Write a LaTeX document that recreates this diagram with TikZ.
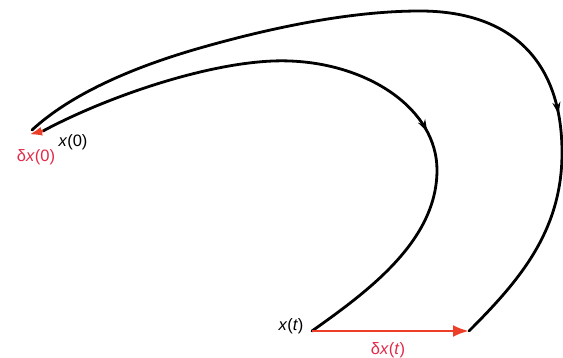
\documentclass[tikz,border=0pt]{standalone}
\usepackage{fontspec}
\setmainfont{Liberation Sans}
\usetikzlibrary{arrows.meta,decorations.markings}
\definecolor{vecred}{RGB}{236,62,40}
\definecolor{labred}{RGB}{226,42,72}
\tikzset{
  traj/.style={line width=2.8pt, black, line cap=round},
  midarrow/.style={postaction={decorate}, decoration={markings,
     mark=at position #1 with {\arrow{Stealth[length=12pt,width=8pt]}}}},
  sep/.style={line width=2.6pt, vecred},
  lab/.style={font=\fontsize{16.5}{19}\selectfont, inner sep=0pt},
  redlab/.style={lab, text=labred}
}
\begin{document}
\begin{tikzpicture}[x=1pt,y=-1pt]
\useasboundingbox (0,0) rectangle (563,358);
\coordinate (a0) at (43,131);
\coordinate (b0) at (32,130);
\coordinate (at) at (312,331);
\coordinate (bt) at (469,331);
% inner trajectory
\draw[traj, midarrow=0.625] (a0) .. controls (110,95) and (220,58) .. (290,61)
   .. controls (370,64) and (437,110) .. (437,170)
   .. controls (437,240) and (370,290) .. (at);
% outer trajectory
\draw[traj, midarrow=0.71] (b0) .. controls (70,95) and (130,68) .. (200,48)
   .. controls (270,28) and (350,11) .. (420,11)
   .. controls (505,11) and (561,55) .. (562,150)
   .. controls (563,230) and (520,280) .. (bt);
% separation vectors
\draw[sep, -{Latex[length=13pt,width=9pt]}] (a0) -- (29,134.5);
\draw[sep, -{Latex[length=16pt,width=12pt]}] (at) -- (bt);
% labels
\node[lab] (lx0) at (73,142) {\textit{x}(0)};
\node[redlab] (ld0) at (36,157) {δ\textit{x}(0)};
\node[lab] (lxt) at (291,326) {\textit{x}(\textit{t})};
\node[redlab] (ldt) at (388,350) {δ\textit{x}(\textit{t})};
\end{tikzpicture}
\end{document}
